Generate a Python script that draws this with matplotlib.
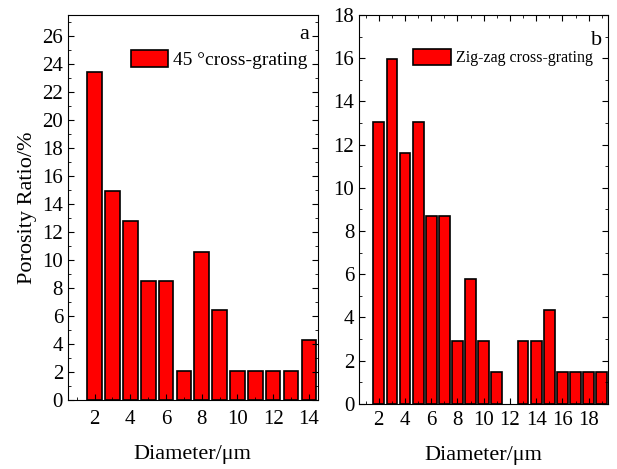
import matplotlib
matplotlib.use("Agg")
import matplotlib.pyplot as plt
from matplotlib.ticker import MultipleLocator

plt.rcParams['font.family'] = ['Liberation Serif', 'DejaVu Serif']

# panel a: 45 deg cross-grating
diam_a = [2, 3, 4, 5, 6, 7, 8, 9, 10, 11, 12, 13, 14]
ratio_a = [23.4, 14.9, 12.8, 8.5, 8.5, 2.1, 10.6, 6.4, 2.1, 2.1, 2.1, 2.1, 4.3]

# panel b: zig-zag cross-grating
diam_b = [2, 3, 4, 5, 6, 7, 8, 9, 10, 11, 12, 13, 14, 15, 16, 17, 18, 19]
ratio_b = [13.05, 15.95, 11.6, 13.05, 8.7, 8.7, 2.9, 5.8, 2.9, 1.45, 0,
           2.9, 2.9, 4.35, 1.45, 1.45, 1.45, 1.45]

ticks_a = [2, 4, 6, 8, 10, 12, 14]
ticks_b = [2, 4, 6, 8, 10, 12, 14, 16, 18]

fig = plt.figure(figsize=(6.17, 4.69), dpi=100)
ax1 = fig.add_axes([0.110, 0.147, 0.405, 0.821])
ax2 = fig.add_axes([0.582, 0.139, 0.404, 0.829])

ax1.bar(diam_a, ratio_a, width=0.82, color='#ff0000', edgecolor='black',
        linewidth=1.2, label='45 °cross-grating')
ax1.set_xlim(0.5, 14.5)
ax1.set_ylim(0, 27.5)
ax1.set_xticks(ticks_a)
ax1.yaxis.set_major_locator(MultipleLocator(2))
ax1.yaxis.set_minor_locator(MultipleLocator(1))
ax1.xaxis.set_minor_locator(MultipleLocator(1))
ax1.tick_params(which='both', direction='in', right=True, top=False,
                labelsize=15)
ax1.tick_params(which='major', length=4)
ax1.tick_params(which='minor', length=2)
ax1.tick_params(axis='x', pad=7)
ax1.set_ylabel('Porosity Ratio/%', fontsize=16, labelpad=4)
ax1.set_xlabel('Diameter/μm', fontsize=16, labelpad=12)
ax1.text(0.965, 0.975, 'a', transform=ax1.transAxes, ha='right', va='top',
         fontsize=16)
ax1.legend(loc='upper right', bbox_to_anchor=(1.03, 0.955), frameon=False,
           fontsize=14, handlelength=1.9, handleheight=0.95, handletextpad=0.3)

edges_b = ['none' if v == 0 else 'black' for v in ratio_b]
ax2.bar(diam_b, ratio_b, width=0.82, color='#ff0000', edgecolor=edges_b,
        linewidth=1.2, label='Zig-zag cross-grating')
ax2.set_xlim(0.5, 19.5)
ax2.set_ylim(0, 18)
ax2.set_xticks(ticks_b)
ax2.yaxis.set_major_locator(MultipleLocator(2))
ax2.yaxis.set_minor_locator(MultipleLocator(1))
ax2.xaxis.set_minor_locator(MultipleLocator(1))
ax2.tick_params(which='both', direction='in', right=True, top=True,
                labelsize=15)
ax2.tick_params(which='major', length=4)
ax2.tick_params(which='minor', length=2)
ax2.tick_params(axis='x', pad=5)
ax2.set_xlabel('Diameter/μm', fontsize=16, labelpad=12)
ax2.text(0.975, 0.96, 'b', transform=ax2.transAxes, ha='right', va='top',
         fontsize=16)
leg = ax2.legend(loc='upper right', bbox_to_anchor=(0.995, 0.95),
                 frameon=False, fontsize=11.5, handlelength=2.4,
                 handleheight=1.2, handletextpad=0.3)
leg.legend_handles[0].set_edgecolor('black')

fig.savefig('out.png', dpi=100)
